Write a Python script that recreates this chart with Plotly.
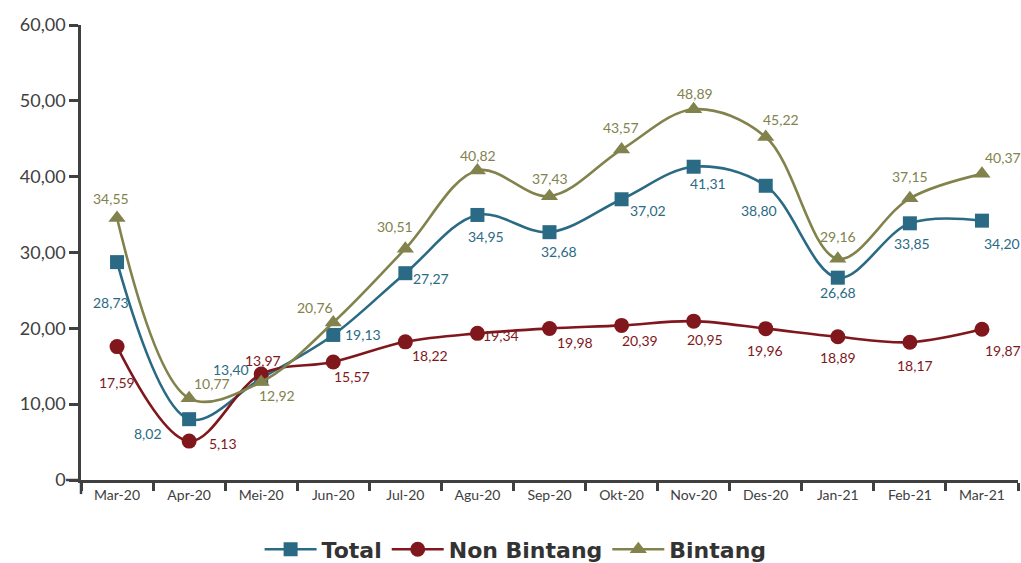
import plotly.graph_objects as go

# Monthly series, Mar-2020 .. Mar-2021
months = ["Mar-20", "Apr-20", "Mei-20", "Jun-20", "Jul-20", "Agu-20", "Sep-20",
          "Okt-20", "Nov-20", "Des-20", "Jan-21", "Feb-21", "Mar-21"]
total = [28.73, 8.02, 13.40, 19.13, 27.27, 34.95, 32.68, 37.02, 41.31, 38.80, 26.68, 33.85, 34.20]
non_bintang = [17.59, 5.13, 13.97, 15.57, 18.22, 19.34, 19.98, 20.39, 20.95, 19.96, 18.89, 18.17, 19.87]
bintang = [34.55, 10.77, 12.92, 20.76, 30.51, 40.82, 37.43, 43.57, 48.89, 45.22, 29.16, 37.15, 40.37]

y_ticks = [0, 10, 20, 30, 40, 50, 60]
y_tick_text = ["0", "10,00", "20,00", "30,00", "40,00", "50,00", "60,00"]

C_TOTAL = "#2b6a84"
C_NON = "#80171c"
C_BIN = "#82824c"
AXIS = "#404040"
FONT = "Lato, 'Open Sans', sans-serif"
LEGEND_FONT = "'DejaVu Sans', sans-serif"

# label offsets (px) from each marker: (xshift, yshift)
off_total = [(-6, -40), (-41, -14), (-30, 9), (30, 0), (26, -5), (9, -22), (9, -19),
             (26, -11), (14, -17), (-7, -25), (0, -15), (2, -20), (20, -23)]
off_non = [(0, -36), (34, -2), (2, 14), (19, -15), (25, -14), (24, -2), (25, -14),
           (18, -15), (11, -18), (-1, -22), (0, -21), (5, -23), (21, -21)]
off_bin = [(-6, 20), (23, 15), (16, -13), (-18, 15), (-10, 22), (1, 15), (0, 18),
           (-1, 22), (1, 16), (15, 18), (0, 22), (0, 22), (21, 16)]


def fmt(v):
    return f"{v:.2f}".replace(".", ",")


fig = go.Figure()
series = [
    ("Total", total, C_TOTAL, "square", 14, off_total),
    ("Non Bintang", non_bintang, C_NON, "circle", 15, off_non),
    ("Bintang", bintang, C_BIN, "triangle-up", 15, off_bin),
]
annotations = []
for name, vals, col, sym, msize, offs in series:
    fig.add_trace(go.Scatter(
        x=months, y=vals, name=name, mode="lines+markers",
        line=dict(color=col, width=2.6, shape="spline", smoothing=1.0),
        marker=dict(symbol=sym, size=msize, color=col),
        cliponaxis=False,
    ))
    for m, v, (dx, dy) in zip(months, vals, offs):
        annotations.append(dict(
            x=m, y=v, xref="x", yref="y", text=fmt(v), showarrow=False,
            xshift=dx, yshift=dy, font=dict(family=FONT, size=14, color=col),
        ))

# axis cross-over stubs (x axis extends left of y axis, y axis extends below x axis)
shapes = [
    dict(type="line", xref="paper", yref="paper", x0=-0.016, x1=0, y0=0, y1=0,
         line=dict(color=AXIS, width=2.5)),
    dict(type="line", xref="paper", yref="paper", x0=0, x1=0, y0=-0.031, y1=0,
         line=dict(color=AXIS, width=2.5)),
]

fig.update_layout(
    width=1021, height=563,
    margin=dict(l=81, r=3, t=25, b=83, autoexpand=False),
    paper_bgcolor="white", plot_bgcolor="white",
    font=dict(family=FONT, color=AXIS),
    annotations=annotations,
    shapes=shapes,
    showlegend=True,
    legend=dict(
        orientation="h", x=0.505, xref="container", xanchor="center",
        y=0.024, yref="container", yanchor="middle",
        font=dict(family=LEGEND_FONT, size=22, color="#333333", weight="bold"),
        itemwidth=52, tracegroupgap=0, bgcolor="rgba(0,0,0,0)",
    ),
    xaxis=dict(
        type="category", range=[-0.5, 12.5], showgrid=False, zeroline=False,
        automargin=False,
        showline=True, linecolor=AXIS, linewidth=2.5,
        ticks="outside", tickson="boundaries", ticklen=8, tickwidth=2.5, tickcolor=AXIS,
        tickfont=dict(family=FONT, size=14, color=AXIS),
    ),
    yaxis=dict(
        range=[0, 60], tickvals=y_ticks, ticktext=y_tick_text,
        automargin=False,
        showgrid=False, zeroline=False,
        showline=True, linecolor=AXIS, linewidth=2.5,
        ticks="outside", ticklen=9, tickwidth=2.5, tickcolor=AXIS,
        tickfont=dict(family=FONT, size=18, color=AXIS),
    ),
)

fig.write_html("out.html")
